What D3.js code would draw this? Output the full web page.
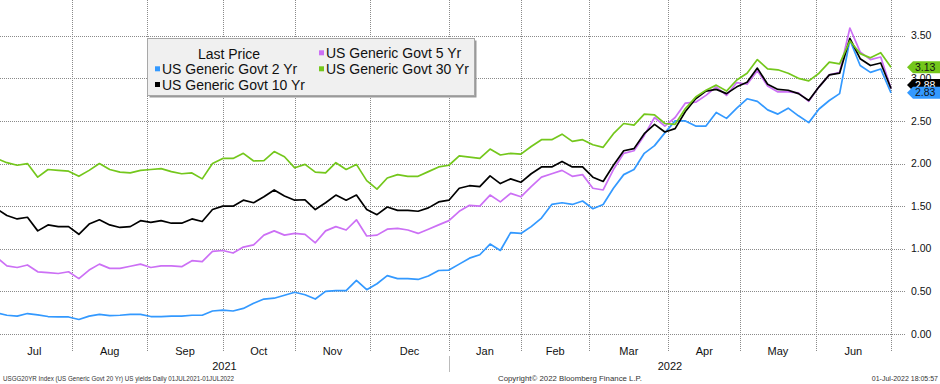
<!DOCTYPE html>
<html>
<head>
<meta charset="utf-8">
<script src="https://cdn.jsdelivr.net/npm/d3@7"></script>
<style>
  body { margin: 0; background: #fff; }
  svg { display: block; font-family: "Liberation Sans", Arial, sans-serif; }
</style>
</head>
<body>
<svg id="chart" width="940" height="384"></svg>
<script>
// values sampled every 3 trading days, 01 Jul 2021 .. 01 Jul 2022
const sampleStep = 3;
const govt2 = [0.25,0.22,0.21,0.24,0.225,0.205,0.20,0.20,0.17,0.21,0.23,0.215,0.22,0.23,0.23,0.205,0.205,0.21,0.21,0.22,0.22,0.27,0.28,0.27,0.30,0.36,0.41,0.42,0.455,0.49,0.46,0.41,0.50,0.51,0.51,0.63,0.52,0.59,0.685,0.65,0.65,0.64,0.68,0.745,0.75,0.82,0.89,0.93,1.055,0.98,1.19,1.18,1.26,1.36,1.52,1.54,1.52,1.56,1.47,1.52,1.71,1.87,1.93,2.12,2.21,2.36,2.50,2.50,2.44,2.44,2.60,2.53,2.65,2.76,2.73,2.63,2.58,2.65,2.56,2.48,2.64,2.74,2.82,3.45,3.15,3.07,3.11,2.83];
const govt5 = [0.90,0.80,0.78,0.81,0.73,0.72,0.71,0.73,0.65,0.75,0.82,0.77,0.77,0.795,0.82,0.78,0.80,0.80,0.79,0.86,0.85,0.97,0.98,0.95,1.02,1.045,1.16,1.21,1.16,1.18,1.17,1.07,1.21,1.26,1.22,1.34,1.15,1.16,1.23,1.24,1.22,1.18,1.23,1.28,1.33,1.44,1.51,1.50,1.63,1.55,1.65,1.61,1.73,1.84,1.88,1.92,1.85,1.87,1.71,1.69,1.93,2.12,2.15,2.33,2.54,2.44,2.54,2.71,2.72,2.80,2.90,2.80,2.95,2.93,3.09,2.91,2.84,2.84,2.83,2.73,2.90,3.04,3.07,3.59,3.31,3.22,3.25,2.88];
const govt10 = [1.47,1.39,1.35,1.37,1.21,1.28,1.26,1.26,1.17,1.29,1.34,1.28,1.25,1.26,1.33,1.31,1.33,1.30,1.30,1.35,1.32,1.46,1.50,1.50,1.57,1.54,1.61,1.69,1.62,1.57,1.575,1.46,1.54,1.63,1.57,1.63,1.46,1.40,1.49,1.45,1.45,1.44,1.48,1.55,1.57,1.71,1.74,1.73,1.855,1.765,1.82,1.78,1.88,1.96,1.96,2.025,1.96,1.96,1.84,1.79,1.98,2.15,2.175,2.35,2.46,2.37,2.41,2.61,2.76,2.85,2.87,2.82,2.90,2.955,3.12,2.93,2.87,2.86,2.82,2.74,2.90,3.04,3.06,3.47,3.23,3.15,3.18,2.88];
const govt30 = [2.06,2.01,1.98,2.00,1.84,1.93,1.92,1.91,1.85,1.92,2.00,1.93,1.90,1.89,1.92,1.93,1.94,1.905,1.88,1.89,1.82,2.00,2.06,2.06,2.12,2.03,2.035,2.14,2.08,1.95,1.99,1.90,1.89,2.01,1.93,1.99,1.80,1.70,1.83,1.87,1.85,1.85,1.905,1.96,1.98,2.09,2.075,2.06,2.17,2.10,2.12,2.11,2.20,2.28,2.28,2.345,2.26,2.28,2.22,2.19,2.35,2.47,2.45,2.58,2.57,2.47,2.46,2.645,2.78,2.86,2.92,2.85,2.98,3.06,3.22,3.11,3.10,3.06,3.00,2.97,3.06,3.19,3.17,3.44,3.29,3.24,3.30,3.13];

const seriesNames = ["US Generic Govt 2 Yr", "US Generic Govt 5 Yr", "US Generic Govt 10 Yr", "US Generic Govt 30 Yr"];
const seriesColors = ["#3399ff", "#cc70f5", "#000000", "#74c71c"];
const yTicks = [0, 0.5, 1, 1.5, 2, 2.5, 3, 3.5];

const svg = d3.select("#chart");
const plotRight = 906, plotBottom = 352;

// trading days (weekdays) from first to last date
const startDate = new Date(2021, 6, 1), endDate = new Date(2022, 6, 1);
const days = d3.timeDay.range(startDate, d3.timeDay.offset(endDate, 1))
  .filter(d => d.getDay() !== 0 && d.getDay() !== 6);

const x = d3.scaleLinear().domain([22, days.length - 1]).range([72, 891]);
const y = d3.scaleLinear().domain([0, 3.5]).range([334, 35.7]);

// month boundaries as trading day index
const months = d3.timeMonth.range(startDate, d3.timeMonth.offset(endDate, 1));
const monthIdx = months.map(m => d3.bisectLeft(days, m));

// dotted gridlines: 1px rects filled with a 2px dot pattern
const defs = svg.append("defs");
const dotH = defs.append("pattern").attr("id", "dotH").attr("patternUnits", "userSpaceOnUse")
  .attr("width", 2).attr("height", 1);
dotH.append("rect").attr("width", 1).attr("height", 1).attr("fill", "#8a8a8a");
const dotV = defs.append("pattern").attr("id", "dotV").attr("patternUnits", "userSpaceOnUse")
  .attr("width", 1).attr("height", 2);
dotV.append("rect").attr("width", 1).attr("height", 1).attr("fill", "#8a8a8a");

const grid = svg.append("g");
grid.selectAll(".h").data(yTicks).enter().append("rect").attr("class", "h")
  .attr("x", 0).attr("y", d => Math.round(y(d)))
  .attr("width", plotRight).attr("height", 1).attr("fill", "url(#dotH)");
grid.selectAll(".v").data(monthIdx.slice(1)).enter().append("rect").attr("class", "v")
  .attr("x", d => Math.round(x(d))).attr("y", 0)
  .attr("width", 1).attr("height", plotBottom).attr("fill", "url(#dotV)");

// lines
defs.append("clipPath").attr("id", "clip").append("rect")
  .attr("x", 0).attr("y", 0).attr("width", plotRight).attr("height", plotBottom);
const line = d3.line().x((d, i) => x(i * sampleStep)).y(d => y(d));
const seriesData = [govt2, govt5, govt10, govt30];
svg.append("g").attr("clip-path", "url(#clip)")
  .selectAll("path").data([0, 1, 2, 3]).enter().append("path")
  .attr("d", k => line(seriesData[k]))
  .attr("fill", "none").attr("stroke", k => seriesColors[k])
  .attr("stroke-width", 1.7).attr("stroke-linejoin", "round");

// right axis labels
svg.append("g").selectAll("text").data(yTicks).enter().append("text")
  .attr("x", 911).attr("y", d => y(d)).attr("dy", "0.35em")
  .attr("font-size", 10.5).attr("fill", "#111")
  .text(d3.format(".2f"));

// month labels
const fmtMonth = d3.timeFormat("%b");
svg.append("g").selectAll("text").data(months.slice(0, -1)).enter().append("text")
  .attr("x", (d, i) => (x(monthIdx[i]) + x(monthIdx[i + 1])) / 2)
  .attr("y", 355).attr("text-anchor", "middle")
  .attr("font-size", 11).attr("fill", "#111")
  .text(fmtMonth);

// year labels
const yearStarts = [0, d3.bisectLeft(days, new Date(2022, 0, 1))];
const yearEnds = [yearStarts[1], days.length - 1];
["2021", "2022"].forEach((yr, i) => {
  const a = Math.max(0, x(yearStarts[i])), b = Math.min(plotRight, x(yearEnds[i]));
  svg.append("text").attr("x", (a + b) / 2).attr("y", 370)
    .attr("text-anchor", "middle").attr("font-size", 11).attr("fill", "#111").text(yr);
});
svg.append("line")
  .attr("x1", Math.round(x(yearStarts[1])) + 0.5).attr("x2", Math.round(x(yearStarts[1])) + 0.5)
  .attr("y1", 356).attr("y2", 372).attr("stroke", "#bbb");

// last value tags (5 Yr tag sits fully under the 10 Yr one, so it is left out)
const lastVal = k => seriesData[k][seriesData[k].length - 1];
const tagShift = {3: 0, 2: -3.5, 0: 0};
const tags = svg.append("g").selectAll("g").data([3, 2, 0]).enter().append("g")
  .attr("transform", k => `translate(0,${y(lastVal(k)) + tagShift[k]})`);
tags.append("path")
  .attr("d", "M907,0 L913,-6 L940,-6 L940,6 L913,6 Z")
  .attr("fill", k => seriesColors[k]);
tags.append("text")
  .attr("x", 915).attr("dy", "0.35em").attr("font-size", 10.5)
  .attr("fill", k => k === 2 ? "#fff" : "#111")
  .text(k => d3.format(".2f")(lastVal(k)));

// legend
const legend = svg.append("g");
legend.append("rect").attr("x", 149.5).attr("y", 40.5).attr("width", 327).attr("height", 57)
  .attr("fill", "#9a9a9a");
legend.append("rect").attr("x", 147.5).attr("y", 38.5).attr("width", 327).attr("height", 57)
  .attr("fill", "#f0f0f0").attr("stroke", "#a8a8a8");
legend.append("text").attr("x", 229).attr("y", 58.5).attr("text-anchor", "middle")
  .attr("font-size", 14).attr("fill", "#111").text("Last Price");
const legendPos = [[155, 74.3], [319, 58.3], [155, 90], [319, 74.3]];
const items = legend.selectAll("g.item").data([0, 1, 2, 3]).enter().append("g");
items.append("rect")
  .attr("x", k => legendPos[k][0]).attr("y", k => legendPos[k][1] - 8)
  .attr("width", 5).attr("height", 5).attr("fill", k => seriesColors[k]);
items.append("text")
  .attr("x", k => legendPos[k][0] + 7).attr("y", k => legendPos[k][1])
  .attr("font-size", 14).attr("fill", "#111").text(k => seriesNames[k]);

// footer
svg.append("text").attr("x", 3).attr("y", 381).attr("font-size", 7).attr("fill", "#333")
  .attr("textLength", 231).attr("lengthAdjust", "spacingAndGlyphs")
  .text("USGG20YR Index (US Generic Govt 20 Yr) US yields  Daily 01JUL2021-01JUL2022");
svg.append("text").attr("x", 570).attr("y", 381).attr("font-size", 7).attr("fill", "#333")
  .attr("text-anchor", "middle").attr("textLength", 144).attr("lengthAdjust", "spacingAndGlyphs")
  .text("Copyright\u00a9 2022 Bloomberg Finance L.P.");
svg.append("text").attr("x", 938).attr("y", 381).attr("font-size", 7).attr("fill", "#333")
  .attr("text-anchor", "end")
  .text("01-Jul-2022 18:05:57");
</script>
</body>
</html>
